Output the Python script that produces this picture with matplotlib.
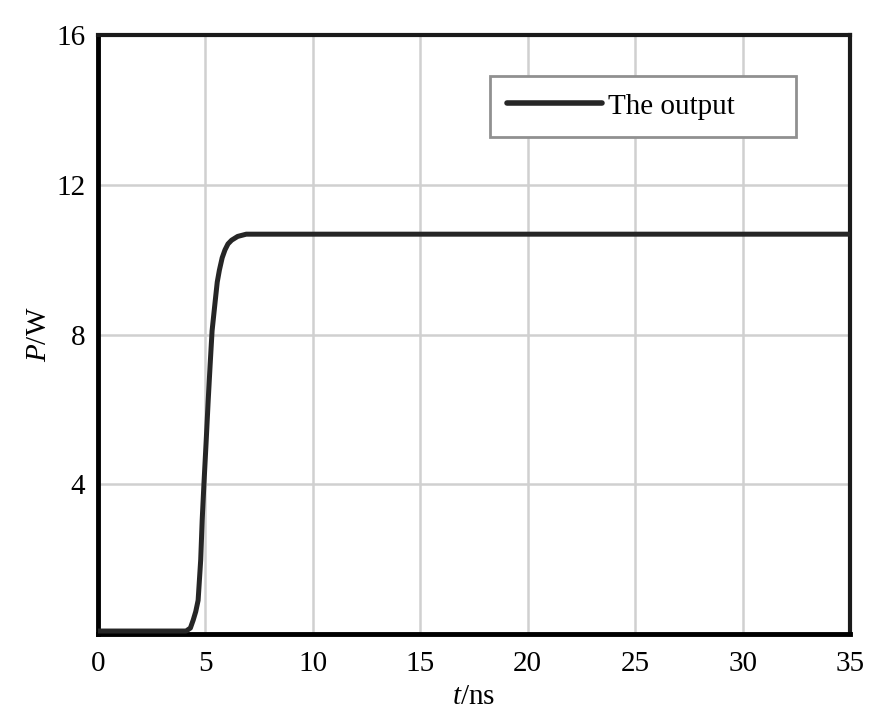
import numpy as np
import matplotlib.pyplot as plt

plt.rcParams['font.family'] = ['Liberation Serif', 'DejaVu Serif']
plt.rcParams['mathtext.fontset'] = 'custom'
plt.rcParams['mathtext.it'] = 'Liberation Serif:italic'
plt.rcParams['mathtext.rm'] = 'Liberation Serif'

# output power vs time
t_ns = [0, 4.1, 4.3, 4.43, 4.55, 4.66, 4.78, 4.85, 4.93, 5.03, 5.13, 5.22, 5.31,
        5.46, 5.55, 5.65, 5.78, 5.91, 6.05, 6.22, 6.5, 6.9, 8.0, 35]
p_w = [0.08, 0.08, 0.16, 0.37, 0.6, 0.9, 1.98, 3.05, 4.0, 5.1, 6.25, 7.2, 8.1,
       8.92, 9.4, 9.72, 10.05, 10.26, 10.42, 10.52, 10.62, 10.68, 10.68, 10.68]

x_ticks = [0, 5, 10, 15, 20, 25, 30, 35]
y_ticks = [4, 8, 12, 16]

fig = plt.figure(figsize=(8.86, 7.10), dpi=100)
ax = fig.add_axes([0.1106, 0.107, 0.8488, 0.8437])

ax.plot(t_ns, p_w, color='#262626', linewidth=3.6, label='The output', zorder=3,
        solid_joinstyle='round', solid_capstyle='round')

ax.set_xlim(0, 35)
ax.set_ylim(0, 16)
ax.set_xticks(x_ticks)
ax.set_yticks(y_ticks)
ax.tick_params(length=0, labelsize=21)
ax.tick_params(axis='x', pad=12)
ax.tick_params(axis='y', pad=9)
ax.grid(True, color='#d0d0d0', linewidth=1.8)

for side in ['left', 'bottom']:
    ax.spines[side].set_linewidth(3.5)
    ax.spines[side].set_color('black')
for side in ['top', 'right']:
    ax.spines[side].set_linewidth(3.0)
    ax.spines[side].set_color('#1a1a1a')

ax.set_xlabel('$t$/ns', fontsize=21, labelpad=5)
ax.set_ylabel('$P$/W', fontsize=21, labelpad=3)

leg = ax.legend(loc='upper left', bbox_to_anchor=(0.521, 0.932), fontsize=21,
                handlelength=3.25, handletextpad=0.2, borderpad=0.6,
                borderaxespad=0, fancybox=False, framealpha=1, edgecolor='#909090')
leg.texts[0].set_text('The output      ')
leg.get_frame().set_linewidth(2)
for line in leg.get_lines():
    line.set_linewidth(4)

fig.savefig('out.png', dpi=100)
